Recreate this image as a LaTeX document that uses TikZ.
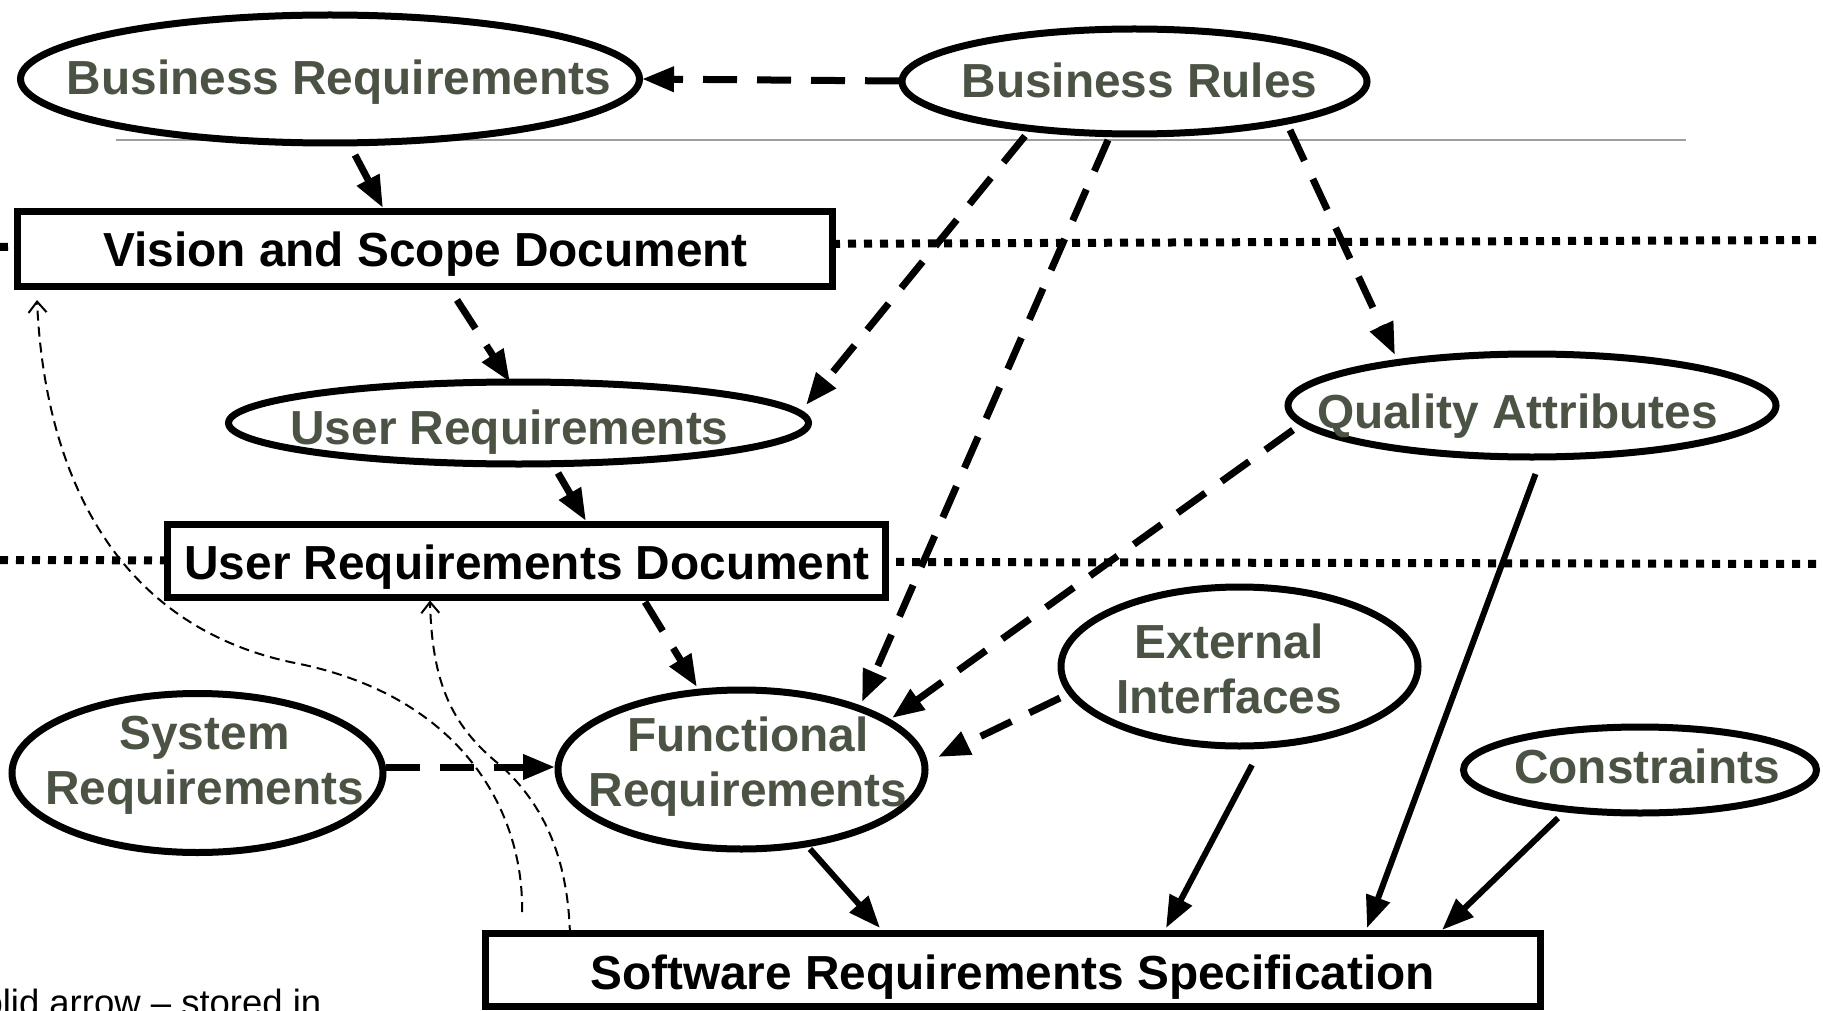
\documentclass[tikz,border=0pt]{standalone}
\usepackage{fontspec}
\setmainfont{Liberation Sans}
\usetikzlibrary{arrows.meta,shapes.geometric,calc}
\definecolor{txtolive}{RGB}{75,83,69}
\newcommand\dgfont{\fontsize{47.8}{55}\selectfont\bfseries}
\begin{document}
\begin{tikzpicture}[x=1pt,y=-1pt,
  ell/.style={ellipse, draw, line width=7pt, fill=white, inner sep=0pt},
  etext/.style={text=txtolive, font=\dgfont, align=center, inner sep=0pt},
  box/.style={rectangle, draw, line width=7pt, fill=white, inner sep=0pt},
  btext/.style={text=black, font=\dgfont, inner sep=0pt},
  dasharrow/.style={line width=7pt, dash pattern=on 34pt off 20pt, -{Triangle[length=32pt,width=24pt]}},
  solidarrow/.style={line width=6pt, -{Triangle[length=32pt,width=24pt]}},
  thinarrow/.style={line width=2pt, dash pattern=on 10pt off 6pt, -{Straight Barb[length=11pt,width=18pt]}},
  dotline/.style={line width=8pt, dash pattern=on 8pt off 8pt},
  grayline/.style={line width=2pt, draw=black!38}
]
\useasboundingbox (0,0) rectangle (1823,1011);
\clip (0,0) rectangle (1823,1011);

% background guide lines
\coordinate (g1) at (116,140);
\coordinate (g2) at (1686,140);
\draw[grayline] (g1) -- (g2);
\coordinate (d1a) at (0,247);
\coordinate (d1b) at (1823,240);
\draw[dotline] (d1a) -- (d1b);
\coordinate (d2a) at (0,560);
\coordinate (d2b) at (1823,564);
\draw[dotline] (d2a) -- (d2b);

% ellipses
\node[ell, minimum width=619pt, minimum height=128pt] (BR) at (330,79) {};
\node[etext] (BRt) at ($(BR.center)+(9,3.5)$) {Business Requirements};
\node[ell, minimum width=465pt, minimum height=105pt] (BRu) at (1134.5,81.5) {};
\node[etext] (BRut) at ($(BRu.center)+(5,-1)$) {Business Rules};
\node[ell, minimum width=580pt, minimum height=82pt] (UR) at (518.5,423) {};
\node[etext] (URt) at ($(UR.center)+(-9,9)$) {User Requirements};
\node[ell, minimum width=488pt, minimum height=103pt] (QA) at (1532,405.5) {};
\node[etext] (QAt) at ($(QA.center)+(-14.5,11)$) {Quality Attributes};
\node[ell, minimum width=357pt, minimum height=159pt] (EI) at (1239.5,666.5) {};
\node[etext] (EIt) at ($(EI.center)+(-10.5,2)$) {External\\Interfaces};
\node[ell, minimum width=371pt, minimum height=159pt] (SR) at (197.5,773) {};
\node[etext] (SRt) at ($(SR.center)+(7,-7.5)$) {System\\Requirements};
\node[ell, minimum width=367pt, minimum height=159pt] (FR) at (741.5,769.5) {};
\node[etext] (FRt) at ($(FR.center)+(6.5,-3)$) {Functional\\Requirements};
\node[ell, minimum width=353pt, minimum height=86pt] (C) at (1640,770) {};
\node[etext] (Ct) at ($(C.center)+(7,-3.5)$) {Constraints};

% boxes
\node[box, minimum width=815pt, minimum height=74pt] (VSD) at (424.5,249) {};
\node[btext] (VSDt) at ($(VSD.center)+(1,5)$) {Vision and Scope Document};
\node[box, minimum width=718pt, minimum height=73pt] (URD) at (526,560.5) {};
\node[btext] (URDt) at ($(URD.center)+(1,7)$) {User Requirements Document};
\node[box, minimum width=1055pt, minimum height=73pt] (SRS) at (1012.5,969.5) {};
\node[btext] (SRSt) at ($(SRS.center)+(0,8)$) {Software Requirements Specification};

% dashed arrows
\draw[dasharrow] ($(BRu.center)+(-235.5,-0.5)$) -- ($(BR.center)+(312,0)$);
\draw[dasharrow] ($(BR.center)+(25,76)$) -- ($(VSD.center)+(-41.5,-41)$);
\draw[dasharrow] ($(VSD.center)+(32.5,51)$) -- ($(UR.center)+(-8.5,-41)$);
\draw[dasharrow] ($(BRu.center)+(-109.5,54.5)$) -- ($(UR.center)+(287.5,-18)$);
\draw[dasharrow] ($(BRu.center)+(-26.5,58.5)$) -- ($(FR.center)+(120.5,-67.5)$);
\draw[dasharrow] ($(BRu.center)+(155.5,48.5)$) -- ($(QA.center)+(-137,-50.5)$);
\draw[dasharrow] ($(UR.center)+(39.5,50)$) -- ($(URD.center)+(60,-39.5)$);
\draw[dasharrow] ($(URD.center)+(119,41.5)$) -- ($(FR.center)+(-44.5,-82.5)$);
\draw[dasharrow] ($(QA.center)+(-239,24.5)$) -- ($(FR.center)+(150.5,-51.5)$);
\draw[dasharrow] ($(EI.center)+(-179.5,31.5)$) -- ($(FR.center)+(196.5,-12.5)$);
\draw[dasharrow] ($(SR.center)+(188.5,-6)$) -- ($(FR.center)+(-186.5,-2.5)$);

% solid arrows
\draw[solidarrow] ($(FR.center)+(68.5,79.5)$) -- ($(SRS.center)+(-132.5,-41.5)$);
\draw[solidarrow] ($(EI.center)+(12.5,98.5)$) -- ($(SRS.center)+(153.5,-41.5)$);
\draw[solidarrow] ($(QA.center)+(3.5,68.5)$) -- ($(SRS.center)+(354.5,-41.5)$);
\draw[solidarrow] ($(C.center)+(-82,48)$) -- ($(SRS.center)+(429.5,-39.5)$);

% thin dashed curves
\coordinate (pm) at (300,664);
\coordinate (qm) at (500,765);
\draw[thinarrow] ($(SRS.center)+(-490.5,-57.5)$) .. controls (524,820) and (470,700) .. (pm)
   .. controls (120,630) and (45,480) .. ($(VSD.center)+(-387.5,51)$);
\draw[thinarrow] ($(SRS.center)+(-442.5,-34.5)$) .. controls (568,860) and (545,805) .. (qm)
   .. controls (450,725) and (432,680) .. ($(URD.center)+(-96,40)$);

% legend text, cut by the lower edge as in the reference
\node[font=\fontsize{36.5}{40}\selectfont, anchor=base west, inner sep=0pt] (legend) at (-42,1015) {Solid arrow – stored in};
\end{tikzpicture}
\end{document}
